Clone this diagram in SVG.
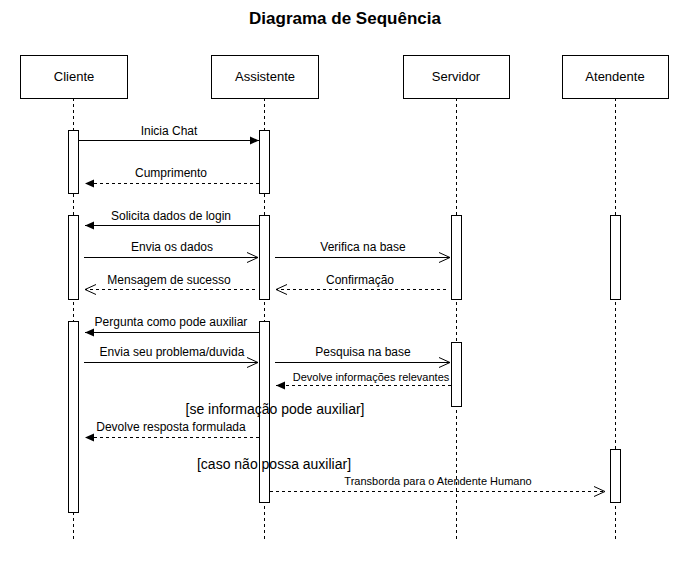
<svg xmlns="http://www.w3.org/2000/svg" width="692" height="561" viewBox="0 0 692 561">
<style>
text{font-family:"Liberation Sans",Arial,sans-serif;fill:#000}
.box{fill:#fff;stroke:#000;stroke-width:1}
.life{stroke:#000;stroke-width:1;stroke-dasharray:3,3;fill:none}
.act{fill:#fff;stroke:#000;stroke-width:1}
.msg{stroke:#000;stroke-width:1;fill:none}
.dash{stroke-dasharray:3,3}
.lbl{font-size:12px;text-anchor:middle}
.hd{font-size:13px;text-anchor:middle}
.sm{font-size:11px;text-anchor:middle}
.grd{font-size:14px;text-anchor:middle}
</style>
<defs>
<marker id="fill" markerWidth="10" markerHeight="10" refX="9" refY="5" orient="auto" markerUnits="userSpaceOnUse"><path d="M0,1 L9,5 L0,9 Z" fill="#000"/></marker>
<marker id="open" markerWidth="12" markerHeight="12" refX="11" refY="6" orient="auto" markerUnits="userSpaceOnUse"><path d="M0,1 L11,6 L0,11" fill="none" stroke="#000" stroke-width="1"/></marker>
</defs>
<rect width="692" height="561" fill="#fff"/>
<text x="345" y="24" font-size="17" font-weight="bold" text-anchor="middle">Diagrama de Sequência</text>

<g id="lifelines">
<line class="life" x1="73.5" y1="98" x2="73.5" y2="542"/>
<line class="life" x1="264.5" y1="98" x2="264.5" y2="542"/>
<line class="life" x1="456.5" y1="98" x2="456.5" y2="542"/>
<line class="life" x1="615.5" y1="98" x2="615.5" y2="542"/>
</g>

<g id="cliente"><rect class="box" x="20.5" y="55.5" width="107" height="43"/><text class="hd" x="74" y="81">Cliente</text></g>
<g id="assistente"><rect class="box" x="211.5" y="55.5" width="107" height="43"/><text class="hd" x="265" y="81">Assistente</text></g>
<g id="servidor"><rect class="box" x="403.5" y="55.5" width="106" height="43"/><text class="hd" x="456" y="81">Servidor</text></g>
<g id="atendente"><rect class="box" x="562.5" y="55.5" width="106" height="43"/><text class="hd" x="615" y="81">Atendente</text></g>

<g id="activations">
<rect class="act" x="68.5" y="130.5" width="10" height="63"/>
<rect class="act" x="259.5" y="130.5" width="10" height="63"/>
<rect class="act" x="68.5" y="215.5" width="10" height="84"/>
<rect class="act" x="259.5" y="215.5" width="10" height="84"/>
<rect class="act" x="451.5" y="215.5" width="10" height="84"/>
<rect class="act" x="610.5" y="215.5" width="10" height="84"/>
<rect class="act" x="68.5" y="321.5" width="10" height="191"/>
<rect class="act" x="259.5" y="321.5" width="10" height="181"/>
<rect class="act" x="451.5" y="342.5" width="10" height="64"/>
<rect class="act" x="610.5" y="449.5" width="10" height="53"/>
</g>

<g id="connectors">
<line class="msg" x1="79" y1="140.5" x2="259" y2="140.5" marker-end="url(#fill)"/>
<line class="msg dash" x1="259" y1="183.5" x2="85" y2="183.5" marker-end="url(#fill)"/>
<line class="msg" x1="259" y1="225.5" x2="85" y2="225.5" marker-end="url(#fill)"/>
<line class="msg" x1="84" y1="257.5" x2="258" y2="257.5" marker-end="url(#open)"/>
<line class="msg" x1="275" y1="257.5" x2="450" y2="257.5" marker-end="url(#open)"/>
<line class="msg dash" x1="255" y1="289.5" x2="85" y2="289.5" marker-end="url(#open)"/>
<line class="msg dash" x1="446" y1="289.5" x2="276" y2="289.5" marker-end="url(#open)"/>
<line class="msg" x1="259" y1="332.5" x2="85" y2="332.5" marker-end="url(#fill)"/>
<line class="msg" x1="84" y1="362.5" x2="258" y2="362.5" marker-end="url(#open)"/>
<line class="msg" x1="275" y1="362.5" x2="450" y2="362.5" marker-end="url(#open)"/>
<line class="msg dash" x1="451" y1="385.5" x2="276" y2="385.5" marker-end="url(#fill)"/>
<line class="msg dash" x1="259" y1="437.5" x2="85" y2="437.5" marker-end="url(#fill)"/>
<line class="msg dash" x1="270" y1="491.5" x2="605" y2="491.5" marker-end="url(#open)"/>
</g>

<g id="labels">
<text class="lbl" x="169" y="135">Inicia Chat</text>
<text class="lbl" x="171" y="177">Cumprimento</text>
<text class="lbl" x="171" y="220">Solicita dados de login</text>
<text class="lbl" x="172" y="251">Envia os dados</text>
<text class="lbl" x="363" y="251">Verifica na base</text>
<text class="lbl" x="169" y="284">Mensagem de sucesso</text>
<text class="lbl" x="360" y="284">Confirmação</text>
<text class="lbl" x="171" y="326">Pergunta como pode auxiliar</text>
<text class="lbl" x="172" y="356">Envia seu problema/duvida</text>
<text class="lbl" x="363" y="356">Pesquisa na base</text>
<text class="sm" x="371" y="381">Devolve informações relevantes</text>
<text class="grd" x="275" y="414">[se informação pode auxiliar]</text>
<text class="lbl" x="171" y="431">Devolve resposta formulada</text>
<text class="grd" x="274" y="469">[caso não possa auxiliar]</text>
<text class="sm" x="438" y="485" font-size="11.5">Transborda para o Atendente Humano</text>
</g>
</svg>
